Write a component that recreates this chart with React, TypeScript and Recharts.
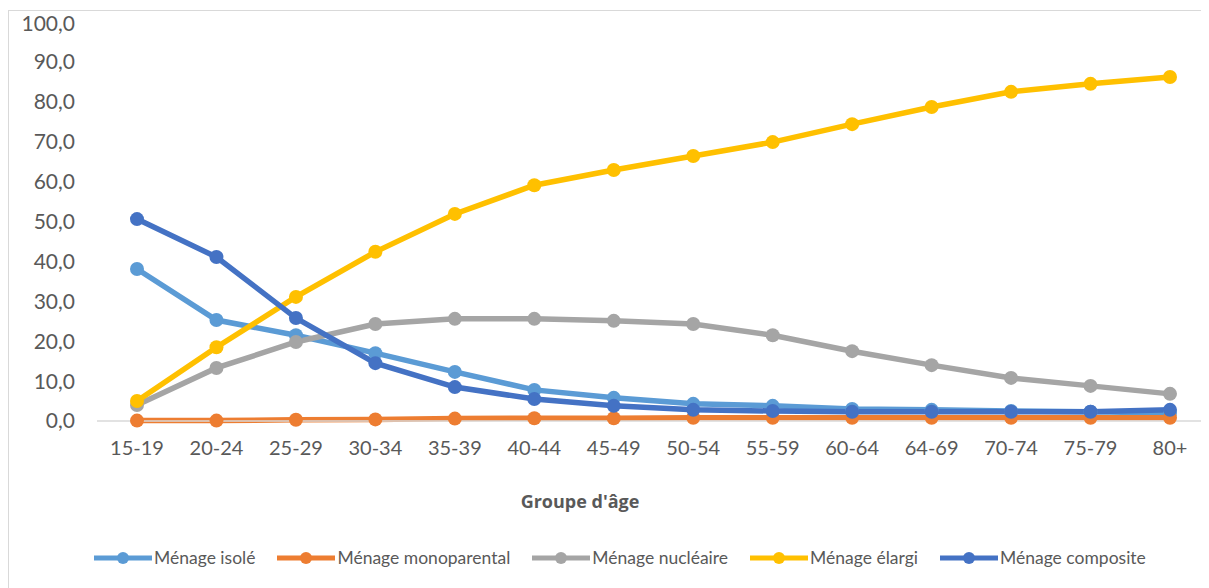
import { LineChart, Line, XAxis, YAxis, Legend } from 'recharts';

const groupes = ['15-19', '20-24', '25-29', '30-34', '35-39', '40-44', '45-49', '50-54', '55-59', '60-64', '64-69', '70-74', '75-79', '80+'];

const isole = [38.1, 25.3, 21.5, 17.0, 12.3, 7.8, 5.8, 4.3, 3.8, 3.0, 2.8, 2.5, 2.3, 2.0];
const monoparental = [0.1, 0.1, 0.3, 0.4, 0.6, 0.7, 0.7, 0.8, 0.8, 0.8, 0.8, 0.8, 0.8, 0.8];
const nucleaire = [4.0, 13.3, 19.8, 24.3, 25.6, 25.6, 25.1, 24.3, 21.5, 17.5, 14.0, 10.8, 8.8, 6.8];
const elargi = [5.0, 18.5, 31.1, 42.4, 51.9, 59.1, 62.9, 66.4, 69.9, 74.4, 78.7, 82.5, 84.5, 86.2];
const composite = [50.6, 41.1, 25.8, 14.5, 8.5, 5.5, 3.8, 2.8, 2.5, 2.3, 2.3, 2.3, 2.3, 2.8];

const yTicks = [0, 10, 20, 30, 40, 50, 60, 70, 80, 90, 100];

const series = [
  { key: 'isole', name: 'Ménage isolé', color: '#5B9BD5' },
  { key: 'monoparental', name: 'Ménage monoparental', color: '#ED7D31' },
  { key: 'nucleaire', name: 'Ménage nucléaire', color: '#A5A5A5' },
  { key: 'elargi', name: 'Ménage élargi', color: '#FFC000' },
  { key: 'composite', name: 'Ménage composite', color: '#4472C4' },
];

const data = groupes.map((g, i) => ({
  groupe: g,
  isole: isole[i],
  monoparental: monoparental[i],
  nucleaire: nucleaire[i],
  elargi: elargi[i],
  composite: composite[i],
}));

const font = 'Lato, "Open Sans", sans-serif';

const renderLegend = () => (
  <div style={{ display: 'flex', paddingLeft: 85, fontFamily: font, fontSize: 17.5, color: '#595959' }}>
    {series.map((s) => (
      <div key={s.key} style={{ display: 'flex', alignItems: 'center', marginRight: 22 }}>
        <svg width={58} height={16}>
          <line x1={0} y1={8} x2={58} y2={8} stroke={s.color} strokeWidth={5} />
          <circle cx={29} cy={8} r={6} fill={s.color} />
        </svg>
        <span style={{ marginLeft: 2 }}>{s.name}</span>
      </div>
    ))}
  </div>
);

const App = () => {
  return (
    <div style={{ width: 1199, height: 578, marginTop: 2, border: '1px solid #d9d9d9', borderRight: 'none', position: 'relative', overflow: 'hidden' }}>
      <LineChart width={1200} height={578} data={data} margin={{ top: 11, right: 0, left: 0, bottom: 138 }}>
        <XAxis
          dataKey="groupe"
          padding={{ left: 40, right: 39 }}
          axisLine={{ stroke: '#d9d9d9', strokeWidth: 1.5 }}
          tickLine={false}
          tickSize={0}
          tickMargin={20}
          height={30}
          interval={0}
          tick={{ fill: '#595959', fontSize: 20, fontFamily: font }}
          label={{
            content: () => (
              <text x={571} y={497} textAnchor="middle" fill="#595959" fontSize={18} fontWeight="bold" fontFamily='"Open Sans", sans-serif'>
                Groupe d'âge
              </text>
            ),
          }}
        />
        <YAxis
          domain={[0, 100]}
          ticks={yTicks}
          width={88}
          axisLine={false}
          tickLine={false}
          tickSize={0}
          tickMargin={22}
          tickFormatter={(v: number) => v.toFixed(1).replace('.', ',')}
          tick={{ fill: '#595959', fontSize: 21, fontFamily: font }}
        />
        <Legend verticalAlign="middle" align="center" content={renderLegend} wrapperStyle={{ top: 536, left: 0, width: 1200 }} />
        {series.map((s) => (
          <Line
            key={s.key}
            type="linear"
            dataKey={s.key}
            name={s.name}
            stroke={s.color}
            strokeWidth={5.5}
            dot={{ r: 7, fill: s.color, stroke: s.color, strokeWidth: 0 }}
            activeDot={false}
            isAnimationActive={false}
          />
        ))}
      </LineChart>
    </div>
  );
};

export default App;
